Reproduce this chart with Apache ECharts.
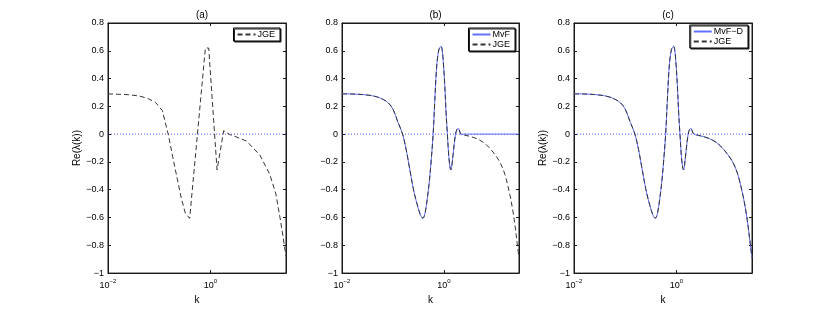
<!DOCTYPE html>
<html>
<head>
<meta charset="utf-8">
<script src="https://cdn.jsdelivr.net/npm/echarts@6/dist/echarts.min.js"></script>
<style>
html,body{margin:0;padding:0;background:#fff;}
#chart{width:830px;height:310px;}
</style>
</head>
<body>
<div id="chart"></div>
<script>
// ---------- data ----------
// smooth curves (panels b and c)
const kJ   = [0.01,0.0158,0.0251,0.0398,0.0562,0.0794,0.1,0.126,0.155,0.182,0.209,0.251,0.282,0.331,0.363,0.389,0.417,0.447,0.479,0.513,0.562,0.617,0.661,0.713,0.759,0.813,0.881,0.933,0.977,1.047,1.109,1.175,1.259,1.334,1.38,1.445,1.549,1.698,1.82,1.923,2.042,2.188,2.512,3.162,3.981,5.012,6.31,7.943,10,12.59,15.85,19.95,22.91,25.12,27.73,30];
const jge  = [0.290,0.289,0.285,0.276,0.260,0.228,0.180,0.085,0.0,-0.11,-0.23,-0.39,-0.47,-0.56,-0.595,-0.605,-0.585,-0.53,-0.45,-0.36,-0.2,0.0,0.22,0.45,0.56,0.615,0.632,0.60,0.52,0.345,0.15,0.0,-0.17,-0.245,-0.257,-0.22,-0.12,0.0,0.035,0.042,0.022,0.0,-0.006,-0.015,-0.026,-0.042,-0.065,-0.10,-0.145,-0.20,-0.29,-0.44,-0.56,-0.66,-0.79,-0.89];
const mvf  = [0.290,0.289,0.285,0.276,0.260,0.228,0.180,0.085,0.0,-0.11,-0.23,-0.39,-0.47,-0.56,-0.595,-0.605,-0.585,-0.53,-0.45,-0.36,-0.2,0.0,0.22,0.45,0.56,0.615,0.632,0.60,0.52,0.345,0.15,0.0,-0.17,-0.245,-0.257,-0.22,-0.12,0.0,0.035,0.042,0.022,-0.004,0,0,0,0,0,0,0,0,0,0,0,0,0,0];
const mvfD = [0.290,0.289,0.285,0.276,0.260,0.228,0.180,0.085,0.0,-0.11,-0.23,-0.39,-0.47,-0.56,-0.595,-0.605,-0.585,-0.53,-0.45,-0.36,-0.2,0.0,0.22,0.45,0.56,0.615,0.632,0.60,0.52,0.345,0.15,0.0,-0.17,-0.245,-0.257,-0.22,-0.12,0.0,0.035,0.042,0.022,0.0,-0.006,-0.015,-0.026,-0.042,-0.065,-0.10,-0.145,-0.20,-0.29,-0.44,-0.56,-0.66,-0.79,-0.89];
// coarse curve (panel a)
const kA   = [0.01,0.0251,0.0398,0.0575,0.085,0.115,0.15,0.2,0.27,0.325,0.394,0.798,0.86,0.927,1.35,1.82,2.45,2.75,5.1,9.25,14.5,19,22.9,26.3,30];
const jgeA = [0.29,0.284,0.275,0.26,0.228,0.17,0.0,-0.23,-0.46,-0.57,-0.606,0.62,0.628,0.62,-0.257,0.025,-0.005,-0.01,-0.05,-0.15,-0.29,-0.43,-0.60,-0.74,-0.88];
// zero reference line
const zeroK = [0.01, 30];
const zeroV = [0, 0];
// axes
const xMin = 0.01, xMax = 30;
const yMin = -1, yMax = 0.8, yStep = 0.2;
const xTickValues = [0.01, 1];
const xTickExps = ['\u22122', '0'];
const panelTitles = ['(a)', '(b)', '(c)'];
const xName = 'k';
const yName = 'Re(\u03bb(k))';

// ---------- layout ----------
const FONT = 'Liberation Sans, Arial, Helvetica, sans-serif';
const AX = '#1a1a1a';
const BLUE = '#6070ff';
const DARK = '#353535';
const grids = [
  {left:108, top:23, width:178, height:251},
  {left:342, top:23, width:177, height:251},
  {left:574, top:23, width:178, height:251}
].map(g => Object.assign(g, {show: true, borderColor: AX, borderWidth: 1, backgroundColor: 'transparent'}));
const pairs = (ks, vs) => ks.map((k, i) => [k, vs[i]]);

const xAxes = [], yAxes = [], series = [], titles = [];
grids.forEach((g, gi) => {
  const base = {gridIndex: gi, type: 'log', logBase: 100, min: xMin, max: xMax,
    splitLine: {show: false}, minorTick: {show: false},
    axisLine: {show: true, onZero: false, lineStyle: {color: AX, width: 1}},
    axisTick: {show: true, inside: true, length: 3, lineStyle: {color: AX}}};
  xAxes.push(Object.assign({}, base, {
    position: 'bottom',
    name: xName, nameLocation: 'middle', nameGap: 20,
    nameTextStyle: {fontFamily: FONT, fontSize: 10, color: '#000'},
    axisLabel: {
      show: true, margin: 5, color: '#000', fontFamily: FONT,
      formatter: function (v) {
        const i = xTickValues.findIndex(t => Math.abs(Math.log10(v / t)) < 1e-6);
        return i < 0 ? '' : '{b|10}{s|' + xTickExps[i] + '}';
      },
      rich: {
        b: {fontSize: 9, fontFamily: FONT, color: '#000', lineHeight: 12, verticalAlign: 'bottom'},
        s: {fontSize: 6, fontFamily: FONT, color: '#000', lineHeight: 12, verticalAlign: 'top'}
      }
    }
  }));
  xAxes.push(Object.assign({}, base, {
    position: 'top', show: true,
    axisLabel: {show: false}
  }));
  const ybase = {gridIndex: gi, type: 'value', min: yMin, max: yMax, interval: yStep,
    splitLine: {show: false},
    axisLine: {show: true, onZero: false, lineStyle: {color: AX, width: 1}},
    axisTick: {show: true, inside: true, length: 3, lineStyle: {color: AX}}};
  yAxes.push(Object.assign({}, ybase, {
    position: 'left',
    name: gi === 1 ? '' : yName, nameLocation: 'middle', nameGap: 25, nameRotate: 90,
    nameTextStyle: {fontFamily: FONT, fontSize: 10, color: '#000'},
    axisLabel: {margin: 4, fontFamily: FONT, fontSize: 9, color: '#000',
      formatter: v => String(+v.toFixed(1)).replace('-', '\u2212')}
  }));
  yAxes.push(Object.assign({}, ybase, {position: 'right', show: true, axisLabel: {show: false}}));
  titles.push({text: panelTitles[gi], left: g.left + g.width / 2, top: 5, textAlign: 'center',
    textStyle: {fontFamily: FONT, fontSize: 10, fontWeight: 'normal', color: '#000'}});
  series.push({type: 'line', name: 'zero' + gi, xAxisIndex: gi * 2, yAxisIndex: gi * 2,
    data: pairs(zeroK, zeroV), symbol: 'none', silent: true, z: 1,
    itemStyle: {color: '#2020ff'},
    lineStyle: {color: '#2020ff', width: 1, type: [1, 2], opacity: 0.75}});
  // invisible anchor series so the mirrored (top/right) axes are bound to a coordinate system
  series.push({type: 'line', name: 'mirror' + gi, xAxisIndex: gi * 2 + 1, yAxisIndex: gi * 2 + 1,
    data: pairs(zeroK, zeroV), symbol: 'none', silent: true, z: 0,
    lineStyle: {opacity: 0}});
});

const solid = (name, gi, ks, vs) => ({type: 'line', name, xAxisIndex: gi * 2, yAxisIndex: gi * 2,
  data: pairs(ks, vs), symbol: 'none', smooth: 0.35, z: 2,
  itemStyle: {color: BLUE},
  lineStyle: {color: BLUE, width: 1}});
const dashed = (name, gi, ks, vs, sm) => ({type: 'line', name, xAxisIndex: gi * 2, yAxisIndex: gi * 2,
  data: pairs(ks, vs), symbol: 'none', smooth: sm, z: 3,
  itemStyle: {color: DARK},
  lineStyle: {color: DARK, width: 1, type: [5, 3]}});

series.push(dashed('JGE', 0, kA, jgeA, false));
series.push(solid('MvF', 1, kJ, mvf));
series.push(dashed('JGE', 1, kJ, jge, 0.35));
series.push(solid('MvF\u2212D', 2, kJ, mvfD));
series.push(dashed('JGE', 2, kJ, jge, 0.35));

const legendBase = {orient: 'vertical', itemWidth: 18, itemHeight: 8, itemGap: 1,
  padding: [2, 5, 2, 3], borderColor: '#000', borderWidth: 1, backgroundColor: '#fff',
  shadowColor: '#222', shadowOffsetX: 1, shadowOffsetY: 1, shadowBlur: 0,
  itemStyle: {opacity: 0},
  textStyle: {fontFamily: FONT, fontSize: 9, color: '#000', padding: [0, 0, 0, -3]},
  selectedMode: false};
const legends = [
  Object.assign({}, legendBase, {top: 28, right: 550, data: ['JGE']}),
  Object.assign({}, legendBase, {top: 28, right: 315, data: ['MvF', 'JGE']}),
  Object.assign({}, legendBase, {top: 25, right: 82, data: ['MvF\u2212D', 'JGE']})
];

const chart = echarts.init(document.getElementById('chart'), null, {renderer: 'canvas'});
chart.setOption({
  animation: false,
  backgroundColor: '#fff',
  title: titles,
  grid: grids,
  xAxis: xAxes,
  yAxis: yAxes,
  legend: legends,
  series: series
});
</script>
</body>
</html>
